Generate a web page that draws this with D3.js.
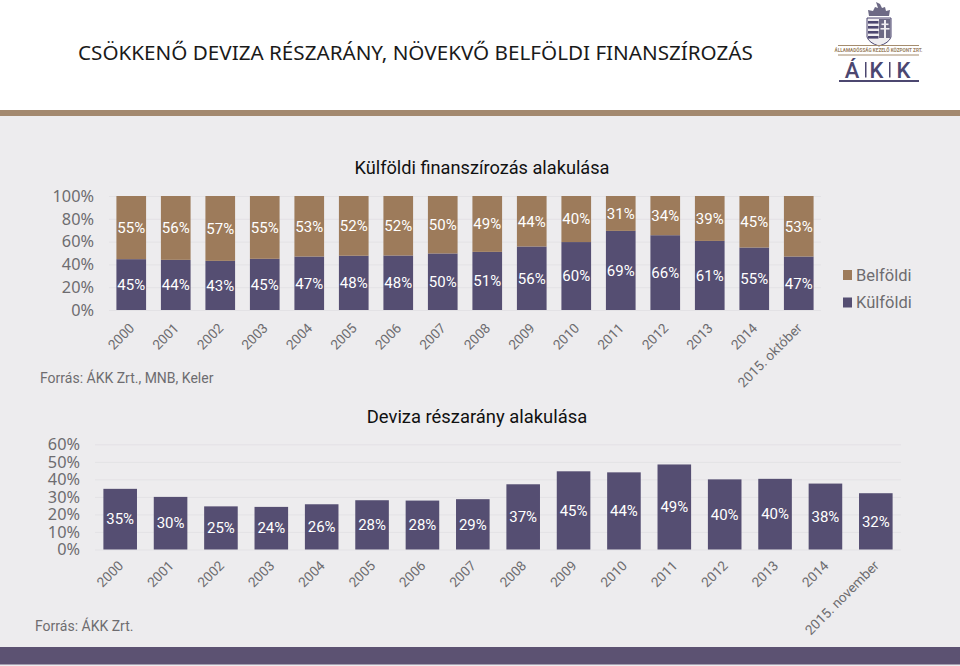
<!DOCTYPE html>
<html><head><meta charset="utf-8">
<script src="https://cdnjs.cloudflare.com/ajax/libs/d3/7.8.5/d3.min.js"></script>
<style>html,body{margin:0;padding:0;background:#fff}svg{display:block}text{font-family:Roboto,"Noto Sans",sans-serif}</style>
</head><body><svg id="c" width="960" height="666"></svg>
<script>
const years=["2000","2001","2002","2003","2004","2005","2006","2007","2008","2009","2010","2011","2012","2013","2014"];
const topCategories=[...years,"2015. október"];
const bottomCategories=[...years,"2015. november"];
const kulfoldi=[44.6,44.0,43.1,44.9,46.9,47.6,47.8,49.6,51.0,55.7,59.6,69.4,65.6,60.6,54.8,46.9];
const belfoldi=[55.4,56.0,56.9,55.1,53.1,52.4,52.2,50.4,49.0,44.3,40.4,30.6,34.4,39.4,45.2,53.1];
const deviza=[34.6,30.0,24.6,24.3,25.8,28.1,27.9,28.7,37.2,44.6,44.0,48.5,40.0,40.3,37.6,32.1];
const topTicks=[0,20,40,60,80,100];
const bottomTicks=[0,10,20,30,40,50,60];
const legendItems=["Belföldi","Külföldi"];
const PURPLE="#554e72",BROWN="#9d7b5b",TICK="#6e6c70",GRID="#e3e2e5",NAVY="#4c4770";

const svg=d3.select("#c");
svg.append("rect").attr("width",960).attr("height",666).attr("fill","#fff");
svg.append("rect").attr("y",110).attr("width",960).attr("height",556).attr("fill","#edecee");
svg.append("rect").attr("y",110).attr("width",960).attr("height",6).attr("fill","#a3896f");
svg.append("rect").attr("y",647).attr("width",960).attr("height",17.5).attr("fill","#5c5272");
svg.append("text").attr("x",78).attr("y",60).attr("font-size",20.65).style("font-family",'"Noto Sans"').attr("fill","#1a1a1a")
  .text("CSÖKKENŐ DEVIZA RÉSZARÁNY, NÖVEKVŐ BELFÖLDI FINANSZÍROZÁS");

// Logo
const logo=svg.append("g");
const shield=d3.path();shield.moveTo(867,18);shield.lineTo(891,18);shield.lineTo(891,37);shield.quadraticCurveTo(889,43,879,46);shield.quadraticCurveTo(869,43,867,37);shield.closePath();
logo.append("path").attr("d",shield.toString()).attr("fill","#efedf0").attr("stroke",NAVY);
[21,26,31,36].forEach(y=>logo.append("rect").attr("x",868).attr("y",y).attr("width",10.5).attr("height",2.6).attr("fill",NAVY));
logo.append("rect").attr("x",879).attr("y",19).attr("width",11.5).attr("height",19).attr("fill","#6d6a85");
logo.append("rect").attr("x",884).attr("y",20).attr("width",2).attr("height",19).attr("fill","#efedf0");
logo.append("rect").attr("x",881.5).attr("y",23.5).attr("width",7).attr("height",1.6).attr("fill","#efedf0");
logo.append("rect").attr("x",880.5).attr("y",28).attr("width",9).attr("height",1.6).attr("fill","#efedf0");
logo.append("path").attr("d","M869 16 L868 10 L873 11 L875 7 L878 8 L876 2 L880 4 L882 8 L885 7 L886 11 L890 10 L889 16Z").attr("fill","#6d6a85");
logo.append("line").attr("x1",838).attr("x2",919).attr("y1",45.5).attr("y2",45.5).attr("stroke","#a58c6d");
logo.append("line").attr("x1",838).attr("x2",919).attr("y1",55).attr("y2",55).attr("stroke","#a58c6d");
logo.append("text").attr("x",878.5).attr("y",52.3).attr("text-anchor","middle").attr("font-size",4.7).attr("font-weight",700).attr("fill","#9a7f5f").text("ÁLLAMADÓSSÁG KEZELŐ KÖZPONT ZRT.");
[["Á",852],["K",876.5],["K",903.5]].forEach(([s,cx])=>logo.append("text").attr("x",cx).attr("y",77.5).attr("text-anchor","middle").attr("font-size",22).attr("font-weight",500).attr("fill",NAVY).text(s));
[865,889].forEach(bx=>logo.append("rect").attr("x",bx).attr("y",62).attr("width",1.5).attr("height",15.5).attr("fill",NAVY));
logo.append("rect").attr("x",839).attr("y",80).attr("width",80).attr("height",2).attr("fill",NAVY);

function chart(o){
  const x=d3.scaleBand().domain(o.cats).range(o.xr).paddingInner(1/3).paddingOuter(1/6);
  const y=d3.scaleLinear().domain(o.dom).range(o.yr);
  const grid=svg.append("g").attr("transform",`translate(${o.xr[0]},0)`)
    .call(d3.axisLeft(y).tickValues(o.ticks).tickSize(-(o.xr[1]-o.xr[0])).tickFormat(""));
  grid.select(".domain").remove();grid.selectAll("line").attr("stroke",GRID);
  const yAxis=svg.append("g").attr("transform",`translate(${o.xr[0]},0)`)
    .call(d3.axisLeft(y).tickValues(o.ticks).tickSize(0).tickPadding(o.yPad).tickFormat(d=>d+"%"));
  yAxis.select(".domain").remove();
  yAxis.selectAll("text").attr("font-size",16.3).attr("fill",TICK).style("font-family",'"Noto Sans"');
  const xAxis=svg.append("g").attr("transform",`translate(0,${o.yr[0]})`)
    .call(d3.axisBottom(x).tickSize(0).tickPadding(0));
  xAxis.select(".domain").remove();
  xAxis.selectAll("text").attr("font-size",13.6).attr("fill",TICK)
    .attr("text-anchor","end").attr("dy",0).attr("y",0)
    .attr("transform",`translate(${o.xOff},${o.yOff}) rotate(-45)`);
  return {x,y};
}
function labels(sel,rows,x,y,size){
  sel.selectAll("text").data(rows).join("text")
    .attr("x",d=>x(d.c)+x.bandwidth()/2)
    .attr("y",d=>(y(d.y0)+y(d.y1))/2).attr("dy","0.35em").attr("text-anchor","middle")
    .attr("font-size",size).attr("fill","#fff").text(d=>Math.round(d.y1-d.y0)+"%");
}
function bars(rows,x,y,fill){
  svg.append("g").selectAll("rect").data(rows).join("rect")
    .attr("x",d=>x(d.c)).attr("width",x.bandwidth())
    .attr("y",d=>y(d.y1)).attr("height",d=>y(d.y0)-y(d.y1)).attr("fill",fill);
}

// Top chart
svg.append("text").attr("x",482).attr("y",174).attr("text-anchor","middle").attr("font-size",18.2).attr("fill","#111").text("Külföldi finanszírozás alakulása");
const t=chart({cats:topCategories,xr:[109,821],yr:[310,196],dom:[0,100],ticks:topTicks,yPad:15,xOff:4,yOff:19});
const kRows=topCategories.map((c,i)=>({c,y0:0,y1:kulfoldi[i]}));
const bRows=topCategories.map((c,i)=>({c,y0:kulfoldi[i],y1:kulfoldi[i]+belfoldi[i]}));
bars(kRows,t.x,t.y,PURPLE);bars(bRows,t.x,t.y,BROWN);
labels(svg.append("g"),kRows,t.x,t.y,15);labels(svg.append("g"),bRows,t.x,t.y,15);
svg.append("text").attr("x",40).attr("y",383).attr("font-size",14).attr("fill",TICK).text("Forrás: ÁKK Zrt., MNB, Keler");

// Legend
const lg=svg.append("g").selectAll("g").data(legendItems).join("g").attr("transform",(d,i)=>`translate(843,${275+i*27.5})`);
lg.append("rect").attr("x",0).attr("y",-5).attr("width",9).attr("height",10).attr("fill",(d,i)=>i?PURPLE:BROWN);
lg.append("text").attr("x",13).attr("dy","0.35em").attr("font-size",16.5).attr("fill",TICK).text(d=>d);

// Bottom chart
svg.append("text").attr("x",477).attr("y",423).attr("text-anchor","middle").attr("font-size",18.4).attr("fill","#111").text("Deviza részarány alakulása");
const b=chart({cats:bottomCategories,xr:[95,901],yr:[549.5,444.3],dom:[0,60],ticks:bottomTicks,yPad:15,xOff:4,yOff:17});
const dRows=bottomCategories.map((c,i)=>({c,y0:0,y1:deviza[i]}));
bars(dRows,b.x,b.y,PURPLE);
labels(svg.append("g"),dRows,b.x,b.y,15);
svg.append("text").attr("x",35).attr("y",631).attr("font-size",14).attr("fill",TICK).text("Forrás: ÁKK Zrt.");
</script></body></html>
